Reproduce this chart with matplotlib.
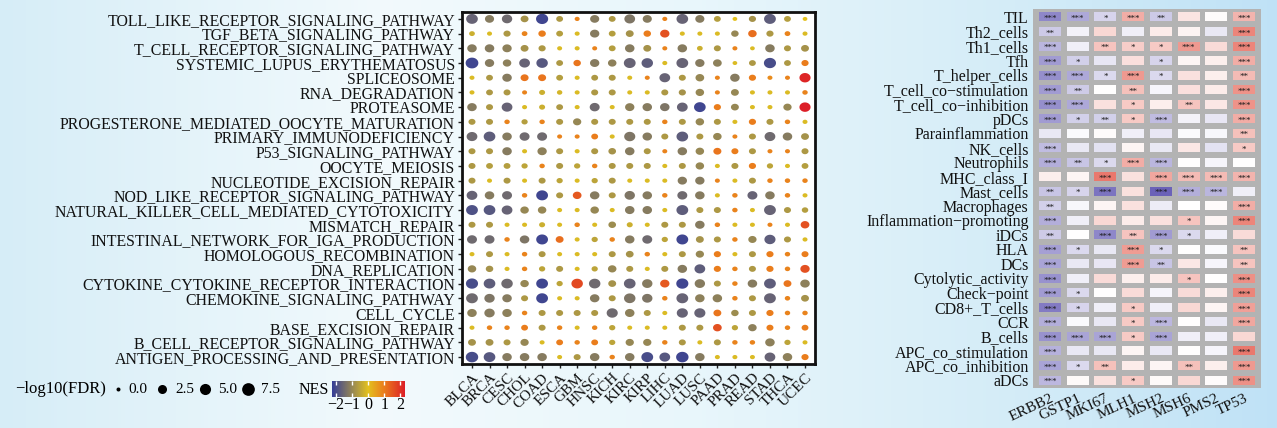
import numpy as np
import matplotlib
matplotlib.use('Agg')
import matplotlib.pyplot as plt
from matplotlib.colors import LinearSegmentedColormap, Normalize
from matplotlib.cm import ScalarMappable
from matplotlib.path import Path
from matplotlib.transforms import ScaledTranslation

plt.rcParams['font.family'] = ['Liberation Serif', 'DejaVu Serif']

# ---- left panel: GSEA dot plot ----
pathways = [
    'TOLL_LIKE_RECEPTOR_SIGNALING_PATHWAY', 'TGF_BETA_SIGNALING_PATHWAY',
    'T_CELL_RECEPTOR_SIGNALING_PATHWAY', 'SYSTEMIC_LUPUS_ERYTHEMATOSUS',
    'SPLICEOSOME', 'RNA_DEGRADATION', 'PROTEASOME',
    'PROGESTERONE_MEDIATED_OOCYTE_MATURATION', 'PRIMARY_IMMUNODEFICIENCY',
    'P53_SIGNALING_PATHWAY', 'OOCYTE_MEIOSIS', 'NUCLEOTIDE_EXCISION_REPAIR',
    'NOD_LIKE_RECEPTOR_SIGNALING_PATHWAY',
    'NATURAL_KILLER_CELL_MEDIATED_CYTOTOXICITY', 'MISMATCH_REPAIR',
    'INTESTINAL_NETWORK_FOR_IGA_PRODUCTION', 'HOMOLOGOUS_RECOMBINATION',
    'DNA_REPLICATION', 'CYTOKINE_CYTOKINE_RECEPTOR_INTERACTION',
    'CHEMOKINE_SIGNALING_PATHWAY', 'CELL_CYCLE', 'BASE_EXCISION_REPAIR',
    'B_CELL_RECEPTOR_SIGNALING_PATHWAY', 'ANTIGEN_PROCESSING_AND_PRESENTATION',
]
cancers = ['BLCA', 'BRCA', 'CESC', 'CHOL', 'COAD', 'ESCA', 'GBM', 'HNSC', 'KICH',
           'KIRC', 'KIRP', 'LIHC', 'LUAD', 'LUSC', 'PAAD', 'PRAD', 'READ',
           'STAD', 'THCA', 'UCEC']

nes = [
    [-1.6, -1.2, -1.5, -0.8, -2.1, -0.7, 0.9, -1.2, -0.7, -1.3, -1.2, 0.9, -1.6, -1.2, -0.6, 0.0, -0.8, -1.7, -0.6, 0.0],
    [-0.3, -0.1, -0.7, 0.9, 1.0, -0.6, -0.1, -1.2, -0.6, -0.8, 1.0, 1.6, -0.1, -0.1, -0.1, -1.0, 1.2, -0.7, 0.9, -0.1],
    [-1.2, -1.2, -1.1, -0.8, -0.7, -0.1, -0.1, 0.9, -0.6, -1.2, -0.8, 0.9, -1.2, -0.3, -0.7, 0.9, -0.1, -1.2, -0.7, -0.8],
    [-2.1, -1.2, -1.1, -1.6, -1.8, -0.7, 1.1, -1.2, -1.1, -1.6, -1.7, -0.1, -1.6, -1.2, -1.1, -0.1, -0.7, -2.0, -0.7, 1.0],
    [-0.1, -0.7, -1.2, 1.1, 1.1, -0.6, -0.1, -0.7, -0.7, -0.1, 0.9, -1.6, -0.7, -1.0, 0.9, -1.2, 1.0, 0.8, 0.9, 2.2],
    [-0.1, -0.7, -0.7, 0.9, -0.3, -0.2, -0.1, -0.7, -0.7, -0.1, -0.1, -0.7, -0.8, -1.0, 0.9, -1.0, -0.1, -0.1, -0.1, 0.9],
    [-1.2, -0.7, -1.6, -0.1, -0.3, -0.7, -0.1, -1.5, -0.1, -1.1, -1.2, -1.3, -1.6, -2.1, 1.0, -1.0, -0.1, -0.1, -1.0, 2.3],
    [-0.7, -0.7, 0.9, -0.6, 0.9, -0.7, -1.0, -0.7, -0.7, -0.7, -0.7, 0.9, -0.7, -1.0, -0.7, -0.1, 1.0, -0.7, 0.9, -0.1],
    [-1.5, -1.7, -1.2, -1.5, -1.5, 0.9, 0.9, 1.0, -0.1, -1.3, -1.2, -0.7, -1.7, -0.7, -1.0, 0.9, -0.7, -1.5, -1.2, -0.8],
    [-0.7, -0.7, -1.2, -0.1, -1.1, -0.7, -0.1, -0.7, -0.8, -1.2, -0.7, 0.9, -1.2, -1.0, 1.1, 1.0, -0.7, 0.9, 0.9, -0.7],
    [-0.7, -0.6, -0.6, -0.5, 0.9, -0.7, -0.5, 0.9, -0.7, -0.7, -0.7, -0.1, -0.7, -1.0, -0.1, -0.7, 1.0, -0.5, -0.1, -0.6],
    [-0.7, -0.1, -0.7, -0.1, -0.7, -0.5, -0.1, -0.5, -0.7, -0.1, -0.1, -0.1, -1.2, -1.2, 0.9, -0.1, -0.7, 0.9, 0.9, 0.9],
    [-1.6, -1.2, -1.5, 0.9, -2.1, -0.7, 1.5, -1.2, -0.7, -1.3, -1.2, 0.9, -1.5, -1.2, -0.1, 0.9, -1.6, -1.2, 0.9, -0.1],
    [-1.9, -1.8, -1.6, -1.0, -1.0, -0.1, -0.1, -1.0, -0.1, -1.2, -1.2, -0.1, -1.7, -0.7, -0.7, 0.9, -0.1, -1.6, -0.7, -0.6],
    [-0.7, -0.7, -0.1, -0.1, -0.3, -0.1, 0.9, -0.1, -0.9, -0.3, -0.1, -0.7, -0.7, -1.2, 0.9, -0.1, -0.1, 0.9, -0.1, 1.6],
    [-1.5, -1.5, 0.9, -1.3, -2.1, 1.2, -0.1, -0.5, 0.9, -1.2, -1.5, -0.5, -2.1, -0.8, -0.7, 0.9, -1.0, -1.7, -0.7, -0.1],
    [-0.1, -0.7, -0.1, 0.9, -0.7, -0.1, -0.1, -0.1, -0.7, -0.8, 0.9, -0.1, -0.7, -1.0, 1.0, -0.1, -0.7, 1.0, 0.9, 1.0],
    [-1.0, -0.8, -0.1, 0.9, -0.5, -0.7, -0.1, -0.5, -1.0, -0.7, -0.1, -0.7, -1.2, -1.7, 1.0, 0.9, -0.7, 1.0, 0.9, 1.6],
    [-2.0, -1.7, -1.5, -1.0, -2.1, -0.5, 1.7, -1.5, -0.8, -1.6, -1.2, 1.5, -2.1, -1.2, -0.7, 0.9, -1.2, -1.7, 1.1, -1.1],
    [-1.5, -1.3, -1.2, -0.7, -2.1, -0.1, -0.1, -1.2, -0.7, -1.3, -1.3, 0.9, -1.6, -1.1, -1.1, 0.9, -0.7, -1.6, 0.9, -0.8],
    [-1.1, -1.2, -1.1, 0.9, -0.7, -0.7, -0.7, -0.7, -1.5, -1.1, -0.7, -0.1, -1.6, -1.6, 1.1, -0.9, -0.7, 1.0, 0.9, 0.9],
    [-0.1, 0.9, 0.9, 1.0, -0.7, 0.9, -0.1, 0.9, -0.5, -0.1, -0.1, -0.1, -0.7, -0.7, 1.6, -0.5, -1.1, 1.0, 0.9, 1.0],
    [-0.8, -0.8, -0.7, -1.0, -0.1, 1.0, 0.9, 1.0, -0.5, -1.0, -1.0, 0.9, -0.7, -0.1, -0.7, 0.9, 0.9, -1.1, -0.5, -0.1],
    [-2.0, -1.8, -1.2, -1.2, -1.2, -0.1, -0.7, -1.2, 0.9, -1.2, -2.0, -1.8, -2.1, -1.2, -0.1, -0.1, -0.1, -1.6, -1.1, 1.0],
]

log_fdr = [
    [5.8, 2.6, 4.0, 1.5, 6.5, 0.8, 0.1, 2.6, 0.8, 4.5, 2.6, 0.1, 5.8, 2.6, 0.8, 0.05, 1.0, 6.0, 0.8, 0.05],
    [0.3, 0.1, 1.0, 0.3, 1.2, 0.8, 0.1, 2.8, 0.8, 1.5, 1.2, 2.8, 0.1, 0.1, 0.1, 1.2, 2.0, 1.0, 0.3, 0.1],
    [3.0, 3.0, 2.8, 1.5, 1.0, 0.1, 0.1, 0.1, 0.8, 3.0, 1.5, 0.1, 3.0, 0.3, 0.9, 0.1, 0.05, 3.0, 0.9, 1.5],
    [7.5, 2.8, 2.0, 4.5, 5.5, 0.8, 1.2, 2.8, 2.0, 6.0, 5.5, 0.1, 6.0, 2.8, 2.2, 0.05, 0.8, 6.5, 0.8, 1.0],
    [0.1, 0.8, 3.0, 1.6, 1.6, 0.8, 0.1, 0.8, 0.9, 0.1, 0.1, 4.5, 0.9, 2.2, 0.1, 3.0, 1.0, 0.1, 0.1, 5.0],
    [0.1, 0.8, 0.9, 0.1, 0.4, 0.2, 0.1, 0.9, 0.9, 0.1, 0.1, 0.9, 1.0, 2.0, 0.1, 1.5, 0.1, 0.1, 0.1, 0.2],
    [3.0, 0.9, 4.5, 0.1, 0.4, 0.8, 0.1, 3.5, 0.1, 2.8, 3.0, 3.0, 4.5, 5.8, 1.0, 1.5, 0.1, 0.1, 1.8, 5.0],
    [0.9, 0.9, 0.2, 0.5, 0.2, 0.9, 1.8, 0.9, 0.9, 0.9, 0.9, 0.2, 0.9, 2.0, 0.9, 0.1, 1.0, 0.9, 0.2, 0.1],
    [4.5, 5.8, 3.0, 3.5, 3.5, 0.1, 0.1, 0.8, 0.1, 5.0, 3.0, 0.9, 5.8, 0.9, 2.0, 0.1, 0.9, 4.5, 3.0, 1.5],
    [0.9, 0.9, 3.0, 0.1, 2.8, 0.9, 0.1, 0.9, 1.3, 3.0, 0.9, 0.1, 3.0, 2.0, 1.6, 0.9, 0.9, 0.1, 0.1, 0.9],
    [0.9, 0.8, 0.8, 0.5, 0.2, 0.9, 0.5, 0.2, 0.9, 0.9, 0.9, 0.1, 0.9, 2.0, 0.1, 0.9, 1.0, 0.5, 0.1, 0.8],
    [0.9, 0.1, 0.9, 0.1, 0.9, 0.5, 0.1, 0.5, 0.9, 0.1, 0.1, 0.1, 2.8, 2.8, 0.1, 0.1, 0.9, 0.2, 0.2, 0.2],
    [4.5, 3.0, 3.5, 0.2, 6.0, 0.9, 2.2, 3.0, 0.9, 4.0, 3.0, 0.2, 3.5, 3.0, 0.1, 0.2, 3.5, 3.0, 0.2, 0.1],
    [6.0, 5.8, 4.5, 2.0, 2.0, 0.1, 0.1, 2.0, 0.1, 3.0, 3.0, 0.1, 6.0, 0.9, 0.9, 0.2, 0.1, 6.0, 0.9, 0.6],
    [0.9, 0.9, 0.1, 0.1, 0.4, 0.1, 0.2, 0.1, 1.3, 0.4, 0.1, 0.9, 0.9, 3.0, 0.2, 0.1, 0.1, 0.1, 0.1, 2.2],
    [3.5, 3.5, 0.2, 3.0, 6.0, 1.5, 0.1, 0.5, 0.2, 3.0, 3.5, 0.5, 6.0, 1.5, 0.9, 0.2, 1.8, 5.0, 0.9, 0.1],
    [0.1, 0.9, 0.1, 0.2, 0.9, 0.1, 0.1, 0.1, 0.9, 1.4, 0.2, 0.1, 0.9, 1.8, 1.0, 0.1, 0.9, 1.0, 0.2, 0.9],
    [2.0, 1.2, 0.1, 0.2, 0.5, 0.9, 0.1, 0.5, 2.0, 0.9, 0.1, 0.9, 3.0, 4.5, 1.0, 0.2, 0.9, 1.0, 0.2, 2.8],
    [6.5, 5.8, 5.5, 2.0, 6.0, 0.5, 5.5, 5.5, 1.5, 5.8, 4.0, 2.8, 6.5, 4.0, 0.9, 0.2, 3.0, 6.0, 1.5, 3.0],
    [6.0, 4.0, 3.0, 0.9, 6.0, 0.1, 0.1, 3.0, 0.9, 5.5, 4.0, 0.2, 6.0, 3.0, 3.0, 0.2, 0.9, 6.0, 0.2, 1.5],
    [3.0, 4.0, 3.0, 0.2, 0.9, 0.9, 0.9, 0.9, 5.0, 3.0, 0.9, 0.1, 5.0, 5.0, 1.5, 1.2, 0.9, 1.0, 0.2, 0.2],
    [0.1, 0.2, 0.2, 0.8, 0.9, 0.2, 0.1, 0.2, 0.5, 0.1, 0.1, 0.1, 0.9, 0.9, 2.2, 0.5, 2.0, 0.9, 0.2, 0.8],
    [1.5, 1.5, 0.9, 1.8, 0.1, 0.8, 0.2, 0.8, 0.5, 1.8, 1.8, 0.2, 0.9, 0.1, 0.9, 0.2, 0.2, 3.0, 0.5, 0.1],
    [7.0, 5.8, 3.0, 3.0, 3.0, 0.1, 0.9, 3.0, 0.2, 3.0, 6.0, 4.5, 7.0, 3.0, 0.1, 0.1, 0.1, 4.5, 3.0, 1.0],
]

size_breaks = [0.0, 2.5, 5.0, 7.5]
nes_ticks = [-2, -1, 0, 1, 2]

# ---- right panel: correlation heatmap ----
signatures = ['TIL', 'Th2_cells', 'Th1_cells', 'Tfh', 'T_helper_cells',
              'T_cell_co\u2212stimulation', 'T_cell_co\u2212inhibition', 'pDCs',
              'Parainflammation', 'NK_cells', 'Neutrophils', 'MHC_class_I',
              'Mast_cells', 'Macrophages', 'Inflammation\u2212promoting', 'iDCs',
              'HLA', 'DCs', 'Cytolytic_activity', 'Check\u2212point',
              'CD8+_T_cells', 'CCR', 'B_cells', 'APC_co_stimulation',
              'APC_co_inhibition', 'aDCs']
genes = ['ERBB2', 'GSTP1', 'MKI67', 'MLH1', 'MSH2', 'MSH6', 'PMS2', 'TP53']

corr = [
    [-0.62, -0.45, -0.22, 0.42, -0.28, 0.14, 0.02, 0.38],
    [-0.28, -0.07, 0.20, -0.08, 0.10, 0.06, -0.12, 0.62],
    [-0.38, -0.08, 0.30, 0.25, 0.27, 0.52, 0.18, 0.62],
    [-0.52, -0.25, -0.13, 0.16, -0.22, 0.05, 0.08, 0.42],
    [-0.58, -0.45, -0.20, 0.52, -0.20, 0.15, 0.08, 0.35],
    [-0.52, -0.27, 0.00, 0.32, -0.05, 0.16, 0.10, 0.55],
    [-0.58, -0.45, 0.15, 0.27, 0.08, 0.30, 0.12, 0.55],
    [-0.52, -0.25, -0.25, 0.27, -0.35, -0.07, -0.13, 0.42],
    [-0.12, -0.03, 0.02, -0.08, -0.13, -0.02, -0.04, 0.32],
    [-0.35, -0.12, -0.15, 0.05, -0.12, 0.12, -0.15, 0.27],
    [-0.42, -0.30, -0.20, 0.42, -0.38, 0.00, -0.05, 0.00],
    [0.08, 0.05, 0.68, 0.15, 0.45, 0.35, 0.35, 0.38],
    [-0.30, -0.22, -0.72, 0.15, -0.82, -0.42, -0.38, -0.08],
    [-0.25, -0.04, 0.05, 0.15, -0.10, 0.00, 0.02, 0.42],
    [-0.42, -0.08, 0.20, 0.10, 0.15, 0.30, 0.05, 0.62],
    [-0.27, 0.00, -0.62, 0.30, -0.52, -0.20, -0.08, 0.18],
    [-0.50, -0.20, -0.12, 0.50, -0.20, 0.00, -0.03, 0.30],
    [-0.47, -0.12, -0.13, 0.50, -0.30, 0.12, -0.05, 0.30],
    [-0.57, -0.08, 0.18, 0.08, 0.10, 0.30, 0.00, 0.57],
    [-0.52, -0.20, 0.00, 0.18, -0.05, 0.18, 0.08, 0.62],
    [-0.68, -0.22, -0.08, 0.27, -0.08, 0.20, 0.05, 0.48],
    [-0.42, -0.03, -0.12, 0.27, -0.37, 0.00, -0.12, 0.45],
    [-0.57, -0.47, -0.47, 0.27, -0.47, -0.08, -0.08, 0.20],
    [-0.40, -0.12, -0.12, 0.05, -0.12, 0.00, -0.05, 0.68],
    [-0.47, -0.20, 0.32, 0.10, 0.05, 0.32, 0.08, 0.52],
    [-0.37, 0.03, 0.15, 0.27, 0.03, 0.20, 0.02, 0.57],
]

stars = [
    [3, 3, 1, 3, 2, 0, 0, 3],
    [2, 0, 0, 0, 0, 0, 0, 3],
    [3, 0, 2, 1, 1, 3, 0, 3],
    [3, 1, 0, 0, 1, 0, 0, 3],
    [3, 3, 1, 3, 1, 0, 0, 2],
    [3, 2, 0, 2, 0, 0, 0, 3],
    [3, 3, 0, 1, 0, 2, 0, 3],
    [3, 1, 2, 1, 3, 0, 0, 3],
    [0, 0, 0, 0, 0, 0, 0, 2],
    [3, 0, 0, 0, 0, 0, 0, 1],
    [3, 2, 1, 3, 3, 0, 0, 0],
    [0, 0, 3, 0, 3, 3, 3, 3],
    [2, 1, 3, 0, 3, 3, 3, 0],
    [2, 0, 0, 0, 0, 0, 0, 3],
    [3, 0, 0, 0, 0, 1, 0, 3],
    [2, 0, 3, 2, 3, 1, 0, 0],
    [3, 1, 0, 3, 1, 0, 0, 2],
    [3, 0, 0, 3, 2, 0, 0, 2],
    [3, 0, 0, 0, 0, 1, 0, 3],
    [3, 1, 0, 0, 0, 0, 0, 3],
    [3, 1, 0, 1, 0, 0, 0, 3],
    [3, 0, 0, 1, 3, 0, 0, 3],
    [3, 3, 3, 1, 3, 0, 0, 0],
    [3, 0, 0, 0, 0, 0, 0, 3],
    [3, 1, 2, 0, 0, 2, 0, 3],
    [3, 0, 0, 1, 0, 0, 0, 3],
]

DPI = 100
W, H = 1277, 428


def px_axes(x0, y0, x1, y1, **kw):
    # pixel box (top-left origin) -> figure axes
    return fig.add_axes([x0 / W, 1 - y1 / H, (x1 - x0) / W, (y1 - y0) / H], **kw)


def dot_area(v):
    d = 4 + 9 * np.sqrt(np.clip(np.asarray(v, float), 0, None) / 8)
    return (d * 72 / DPI) ** 2


nes_lo, nes_hi = -2.25, 2.3
nes_cmap = LinearSegmentedColormap.from_list('nes', [
    (0.0, '#353e98'),
    ((0 - nes_lo) / (nes_hi - nes_lo), '#e3c11e'),
    ((1 - nes_lo) / (nes_hi - nes_lo), '#ea7d1c'),
    (1.0, '#dc1e27'),
])
nes_norm = Normalize(nes_lo, nes_hi)

heat_cmap = LinearSegmentedColormap.from_list('heat', ['#4a3fa8', '#ffffff', '#e03b2a'])
heat_norm = Normalize(-1, 1)

t = np.linspace(0, 2 * np.pi, 60)
ellipse = Path(np.column_stack([1.18 * np.cos(t), np.sin(t)]), closed=True)

fig = plt.figure(figsize=(W / DPI, H / DPI), dpi=DPI)

# background gradient
bg = fig.add_axes([0, 0, 1, 1], zorder=-10)
xs = np.linspace(0, 1, 400)
stop_x = [0.0, 0.3, 0.55, 0.8, 1.0]
stop_c = np.array([[0.84, 0.93, 0.97], [0.95, 0.98, 0.99], [0.91, 0.965, 0.985],
                   [0.83, 0.925, 0.97], [0.75, 0.885, 0.965]])
grad = np.stack([np.interp(xs, stop_x, stop_c[:, k]) for k in range(3)], axis=-1)
bg.imshow(grad[None, :, :], aspect='auto', extent=[0, 1, 0, 1])
bg.axis('off')

# dot plot
ax = px_axes(462, 12, 815, 364)
rows, cols = np.meshgrid(np.arange(len(pathways)), np.arange(len(cancers)), indexing='ij')
ax.scatter(cols.ravel(), rows.ravel(), s=dot_area(log_fdr).ravel(),
           c=np.asarray(nes).ravel(), cmap=nes_cmap, norm=nes_norm,
           marker=ellipse, linewidths=0)
ax.set_xlim(-0.57, len(cancers) - 0.43)
ax.set_ylim(len(pathways) - 0.53, -0.47)
ax.set_xticks(range(len(cancers)))
ax.set_xticklabels(cancers, rotation=45, ha='right', va='top',
                   rotation_mode='anchor', fontsize=11)
shift = ScaledTranslation(6 / DPI, -4 / DPI, fig.dpi_scale_trans)
for lab in ax.get_xticklabels():
    lab.set_transform(lab.get_transform() + shift)
ax.set_yticks(range(len(pathways)))
ax.set_yticklabels(pathways, fontsize=11.4)
ax.tick_params(length=3, width=1, pad=2, colors='#222222', labelcolor='#111111')
for sp in ax.spines.values():
    sp.set_linewidth(2)
    sp.set_color('#111111')

# size legend
lg = px_axes(0, 370, 300, 410)
lg.set_xlim(0, 300)
lg.set_ylim(410, 370)
lg.axis('off')
lg.text(15, 389, '\u2212log10(FDR)', fontsize=12, ha='left', va='center')
for xd, v in zip([118, 162, 205, 248], size_breaks):
    lg.scatter([xd], [389], s=dot_area(v), color='black', linewidths=0)
    lg.text(xd + 13 - (0 if v else 3), 389, f'{v:.1f}', fontsize=11, ha='left', va='center')

# NES colorbar
fig.text(299 / W, 1 - 390 / H, 'NES', fontsize=11.5, ha='left', va='center')
cax = px_axes(332, 381, 405, 397)
cb = fig.colorbar(ScalarMappable(norm=nes_norm, cmap=nes_cmap), cax=cax,
                  orientation='horizontal', ticks=nes_ticks)
cb.outline.set_visible(False)
cax.tick_params(length=0, pad=0, labelsize=11.5)
cax.set_xticklabels([f'{v}'.replace('-', '\u2212') for v in nes_ticks])
trans = cax.get_xaxis_transform()
cax.vlines(nes_ticks, 0, 0.22, color='white', lw=1, transform=trans)
cax.vlines(nes_ticks, 0.78, 1, color='white', lw=1, transform=trans)

# heatmap
hx = px_axes(1033, 9, 1261, 388)
hx.set_facecolor('#b3b3b3')
corr_arr = np.asarray(corr)
yy = np.arange(len(signatures))
for j in range(len(genes)):
    hx.barh(yy, 0.79, left=j - 0.395, height=0.62,
            color=heat_cmap(heat_norm(corr_arr[:, j])), linewidth=0)
    for i in yy:
        if stars[i][j]:
            hx.text(j, i + 0.14, '*' * stars[i][j], ha='center', va='center',
                    fontsize=6.5, color='#1a1a1a')
hx.set_xlim(-0.61, len(genes) - 0.39)
hx.set_ylim(len(signatures) - 0.45, -0.55)
hx.set_xticks(range(len(genes)))
hx.set_xticklabels(genes, rotation=25, ha='right', va='top',
                   rotation_mode='anchor', fontsize=11)
hshift = ScaledTranslation(4 / DPI, 0, fig.dpi_scale_trans)
for lab in hx.get_xticklabels():
    lab.set_transform(lab.get_transform() + hshift)
hx.set_yticks(yy)
hx.set_yticklabels(signatures, fontsize=11.5)
hx.tick_params(length=0, pad=3, labelcolor='#111111')
for sp in hx.spines.values():
    sp.set_visible(False)

fig.savefig('out.png', dpi=DPI)
